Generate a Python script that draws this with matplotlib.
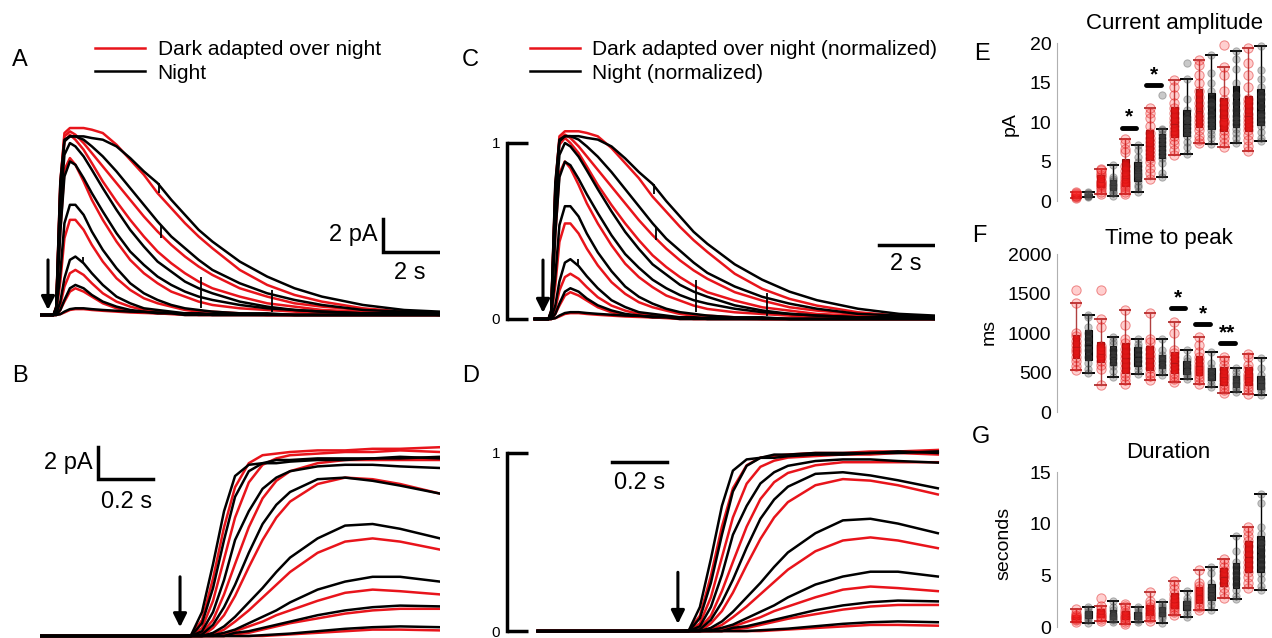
import numpy as np
import matplotlib
matplotlib.use('Agg')
import matplotlib.pyplot as plt
from matplotlib.lines import Line2D

plt.rcParams['font.family'] = ['Liberation Sans', 'DejaVu Sans']

# ---------------- DATA ----------------
# Panel A: full responses (pA) sampled at times (s) after the flash
tA = [-0.3, 0.0, 0.1, 0.2, 0.3, 0.45, 0.6, 0.8, 1.0, 1.3, 1.6, 2.0, 2.5, 3.0, 3.5,
      4.0, 4.5, 5.0, 5.5, 6.0, 7.0, 8.0, 9.0, 10.0, 11.5, 13.0, 14.3]
a_dark_1 = [0, 0, 0, 0, 0.4, 7.8, 10.9, 11.2, 11.2, 11.2, 11.1, 10.9, 10.2, 9.3, 8.4, 7.3, 6.4, 5.5, 4.7, 4.0, 2.7, 1.8, 1.2, 0.8, 0.4, 0.2, 0.1]
a_dark_2 = [0, 0, 0, 0, 0.5, 8.0, 10.7, 11.0, 10.8, 10.3, 9.7, 8.9, 7.9, 6.9, 5.9, 5.0, 4.2, 3.5, 2.9, 2.4, 1.6, 1.1, 0.7, 0.5, 0.3, 0.1, 0.1]
a_dark_3 = [0, 0, 0, 0, 0.4, 7.5, 10.4, 10.8, 10.5, 9.9, 9.1, 8.0, 6.8, 5.7, 4.7, 3.8, 3.1, 2.5, 2.0, 1.6, 1.1, 0.7, 0.5, 0.3, 0.2, 0.1, 0.1]
a_dark_4 = [0, 0, 0, 0, 0.3, 5.0, 8.7, 9.4, 9.0, 8.0, 6.9, 5.7, 4.4, 3.3, 2.5, 1.9, 1.4, 1.1, 0.8, 0.6, 0.4, 0.3, 0.2, 0.1, 0.1, 0.1, 0.0]
a_dark_5 = [0, 0, 0, 0, 0.1, 2.0, 4.6, 5.7, 5.7, 5.1, 4.2, 3.2, 2.2, 1.5, 1.0, 0.7, 0.5, 0.3, 0.2, 0.2, 0.1, 0, 0, 0, 0, 0, 0]
a_dark_6 = [0, 0, 0, 0, 0.05, 0.6, 1.7, 2.5, 2.7, 2.4, 1.9, 1.3, 0.8, 0.5, 0.3, 0.2, 0.1, 0.1, 0, 0, 0, 0, 0, 0, 0, 0, 0]
a_dark_7 = [0, 0, 0, 0, 0, 0.3, 0.8, 1.4, 1.6, 1.4, 1.1, 0.7, 0.4, 0.25, 0.15, 0.1, 0.05, 0, 0, 0, 0, 0, 0, 0, 0, 0, 0]
a_dark_8 = [0, 0, 0, 0, 0, 0.05, 0.15, 0.3, 0.35, 0.35, 0.3, 0.25, 0.2, 0.15, 0.12, 0.1, 0.08, 0.06, 0.05, 0.04, 0.02, 0, 0, 0, 0, 0, 0]
a_night_1 = [0, 0, 0, 0, 0.4, 7.5, 10.4, 10.7, 10.7, 10.7, 10.6, 10.5, 10.1, 9.4, 8.6, 7.9, 6.9, 6.0, 5.1, 4.4, 3.2, 2.3, 1.6, 1.1, 0.6, 0.3, 0.2]
a_night_2 = [0, 0, 0, 0, 0.5, 8.0, 10.5, 10.7, 10.7, 10.5, 10.1, 9.5, 8.6, 7.6, 6.6, 5.6, 4.7, 4.0, 3.3, 2.7, 1.9, 1.3, 0.9, 0.6, 0.3, 0.2, 0.1]
a_night_3 = [0, 0, 0, 0, 0.4, 6.5, 9.6, 10.3, 10.1, 9.5, 8.7, 7.6, 6.3, 5.1, 4.1, 3.2, 2.6, 2.0, 1.6, 1.3, 0.8, 0.5, 0.3, 0.2, 0.1, 0.1, 0.1]
a_night_4 = [0, 0, 0, 0, 0.3, 5.0, 8.3, 9.2, 9.0, 8.2, 7.3, 6.2, 4.9, 3.8, 3.0, 2.3, 1.8, 1.4, 1.1, 0.9, 0.6, 0.4, 0.3, 0.2, 0.1, 0.1, 0.0]
a_night_5 = [0, 0, 0, 0, 0.2, 2.5, 5.5, 6.6, 6.6, 6.0, 5.0, 3.9, 2.8, 1.9, 1.3, 0.9, 0.6, 0.4, 0.3, 0.2, 0.1, 0.1, 0, 0, 0, 0, 0]
a_night_6 = [0, 0, 0, 0, 0.05, 0.8, 2.2, 3.3, 3.5, 3.1, 2.5, 1.8, 1.1, 0.7, 0.4, 0.3, 0.2, 0.1, 0.1, 0, 0, 0, 0, 0, 0, 0, 0]
a_night_7 = [0, 0, 0, 0, 0, 0.3, 0.9, 1.6, 1.8, 1.6, 1.2, 0.8, 0.5, 0.3, 0.2, 0.1, 0.1, 0, 0, 0, 0, 0, 0, 0, 0, 0, 0]
a_night_8 = [0, 0, 0, 0, 0, 0.05, 0.2, 0.35, 0.4, 0.4, 0.35, 0.3, 0.25, 0.2, 0.18, 0.15, 0.12, 0.1, 0.08, 0.06, 0.04, 0.02, 0, 0, 0, 0, 0]
# small vertical artefacts on the night traces (time s, top pA, bottom pA)
art_t = [4.06, 4.12, 5.58, 8.18, 1.27]
art_top = [7.9, 5.4, 2.3, 1.5, 3.5]
art_bot = [7.3, 4.6, 0.4, 0.2, 3.1]
# normalisation used for panel C
normC_dark, normC_night = 10.5, 10.3

# Panel B: rising phase (pA) at times (s) after the flash
tB = [-0.51, -0.3, -0.1, 0.0, 0.04, 0.08, 0.12, 0.16, 0.2, 0.25, 0.3, 0.35, 0.4, 0.5, 0.6, 0.7, 0.8, 0.945]
b_dark_1 = [0, 0, 0, 0, 0.05, 1.0, 3.6, 6.8, 9.3, 10.8, 11.3, 11.4, 11.5, 11.6, 11.6, 11.7, 11.7, 11.8]
b_dark_2 = [0, 0, 0, 0, 0, 0.5, 2.2, 4.8, 7.4, 9.6, 10.7, 11.1, 11.3, 11.4, 11.5, 11.5, 11.6, 11.5]
b_dark_3 = [0, 0, 0, 0, 0, 0.2, 1.0, 2.6, 4.5, 6.8, 8.6, 9.7, 10.3, 10.8, 11.0, 11.0, 11.0, 11.0]
b_dark_4 = [0, 0, 0, 0, 0, 0, 0.5, 1.3, 2.5, 4.3, 6.0, 7.4, 8.4, 9.5, 9.9, 9.8, 9.5, 8.9]
b_dark_5 = [0, 0, 0, 0, 0, 0, 0.1, 0.4, 0.9, 1.6, 2.4, 3.2, 4.0, 5.2, 5.9, 6.1, 5.9, 5.4]
b_dark_6 = [0, 0, 0, 0, 0, 0, 0, 0.1, 0.3, 0.6, 0.9, 1.3, 1.6, 2.2, 2.7, 2.9, 2.8, 2.6]
b_dark_7 = [0, 0, 0, 0, 0, 0, 0, 0, 0.1, 0.2, 0.4, 0.6, 0.8, 1.1, 1.4, 1.6, 1.7, 1.7]
b_dark_8 = [0, 0, 0, 0, 0, 0, 0, 0, 0, 0, 0, 0.05, 0.1, 0.2, 0.3, 0.4, 0.4, 0.35]
b_night_1 = [0, 0, 0, 0, 0.05, 1.5, 4.5, 7.8, 10.0, 10.7, 10.8, 10.8, 10.9, 11.0, 11.0, 11.1, 11.1, 11.2]
b_night_2 = [0, 0, 0, 0, 0, 0.8, 3.0, 6.0, 8.7, 10.3, 10.8, 11.0, 11.0, 11.1, 11.1, 11.1, 11.2, 11.1]
b_night_3 = [0, 0, 0, 0, 0, 0.3, 1.5, 3.5, 6.0, 7.8, 9.2, 9.9, 10.3, 10.6, 10.7, 10.7, 10.6, 10.5]
b_night_4 = [0, 0, 0, 0, 0, 0.1, 0.7, 1.8, 3.2, 5.2, 7.0, 8.2, 9.0, 9.8, 9.9, 9.7, 9.4, 8.9]
b_night_5 = [0, 0, 0, 0, 0, 0, 0.2, 0.6, 1.2, 2.1, 3.0, 4.0, 4.9, 6.1, 6.9, 7.0, 6.7, 6.1]
b_night_6 = [0, 0, 0, 0, 0, 0, 0.05, 0.2, 0.4, 0.8, 1.2, 1.6, 2.1, 2.9, 3.4, 3.7, 3.7, 3.4]
b_night_7 = [0, 0, 0, 0, 0, 0, 0, 0, 0.2, 0.3, 0.5, 0.7, 0.9, 1.3, 1.6, 1.8, 1.9, 1.85]
b_night_8 = [0, 0, 0, 0, 0, 0, 0, 0, 0, 0, 0.05, 0.1, 0.15, 0.3, 0.45, 0.55, 0.6, 0.55]
normD_dark, normD_night = 11.6, 11.1

# Panels E-G: per-cell values, 8 flash intensities, dark adapted (red) / night (black)
amp_dark = [[0.4, 0.5, 0.6, 0.7, 0.8, 0.9, 1.0, 1.1],
            [0.9, 1.2, 1.5, 1.8, 2.0, 2.2, 2.4, 2.6, 3.0, 3.3, 3.6, 3.9, 4.1],
            [0.9, 1.2, 1.5, 1.8, 2.0, 2.3, 2.6, 2.9, 3.3, 3.8, 4.5, 6.2, 6.6, 7.4, 7.9],
            [2.8, 3.5, 4.2, 5.0, 5.5, 6.0, 6.5, 7.0, 7.5, 8.0, 8.6, 9.5, 10.5, 11.2, 11.8],
            [5.8, 6.5, 7.2, 7.8, 8.2, 8.6, 9.0, 9.5, 10.0, 10.5, 11.2, 11.8, 12.5, 13.5, 14.5, 15.3],
            [7.3, 7.8, 8.3, 9.0, 9.5, 10.0, 10.5, 11.0, 11.8, 12.5, 13.2, 14.0, 15.0, 16.0, 17.2, 17.9],
            [6.8, 7.3, 8.0, 8.5, 9.0, 9.6, 10.0, 10.2, 10.8, 11.5, 12.2, 12.8, 14.0, 16.0, 17.0, 19.8],
            [6.3, 7.0, 7.8, 8.4, 9.0, 9.5, 10.0, 10.5, 11.0, 11.8, 12.5, 13.0, 14.5, 16.0, 17.5, 19.4]]
amp_night = [[0.5, 0.6, 0.7, 0.8, 0.9, 1.0, 1.1],
             [0.7, 1.0, 1.2, 1.5, 1.8, 2.0, 2.2, 2.5, 2.8, 3.1, 4.6],
             [1.2, 1.8, 2.0, 2.5, 3.0, 3.3, 3.6, 4.0, 4.4, 5.0, 5.6, 6.5, 7.1],
             [3.0, 3.5, 4.8, 5.5, 6.0, 6.5, 7.0, 7.5, 8.0, 8.5, 9.0, 9.2, 13.5],
             [6.0, 6.9, 7.5, 8.2, 8.8, 9.3, 9.8, 10.3, 10.7, 11.5, 12.9, 15.5, 17.5],
             [7.2, 8.0, 8.5, 9.0, 9.5, 10.0, 10.5, 11.2, 12.0, 12.6, 14.0, 15.0, 16.2, 18.5],
             [7.4, 8.0, 8.6, 9.2, 9.8, 10.3, 10.8, 11.5, 12.4, 13.5, 15.0, 16.8, 18.0, 19.0],
             [7.6, 8.0, 8.8, 9.5, 10.0, 10.6, 11.2, 12.0, 13.0, 13.6, 14.5, 15.5, 16.6, 19.7]]
tpeak_dark = [[530, 580, 640, 700, 760, 800, 850, 900, 960, 1000, 1380, 1540],
              [340, 540, 600, 650, 700, 720, 760, 800, 830, 1080, 1180, 1540],
              [350, 400, 450, 500, 560, 620, 680, 740, 800, 870, 920, 1100, 1290],
              [400, 450, 500, 560, 620, 680, 740, 800, 880, 920, 1250],
              [380, 420, 460, 500, 550, 600, 640, 700, 750, 780, 1000, 1140],
              [360, 400, 440, 480, 520, 560, 600, 650, 700, 760, 850, 950],
              [240, 280, 320, 360, 400, 440, 480, 540, 600, 660, 700],
              [230, 280, 320, 360, 400, 440, 480, 540, 600, 700, 740]]
tpeak_night = [[500, 550, 620, 700, 780, 850, 920, 1000, 1080, 1200, 1230],
               [440, 520, 580, 620, 680, 720, 780, 860, 900, 950],
               [480, 530, 580, 640, 700, 760, 820, 860, 930],
               [470, 520, 560, 600, 640, 680, 720, 780, 920],
               [420, 450, 480, 510, 560, 600, 640, 680, 780],
               [320, 360, 400, 440, 480, 520, 560, 620, 760],
               [250, 290, 320, 350, 380, 420, 460, 510, 560],
               [220, 260, 290, 320, 350, 380, 420, 470, 560, 680]]
dur_dark = [[0.5, 0.7, 0.8, 0.9, 1.0, 1.1, 1.2, 1.4, 1.7],
            [0.6, 0.8, 1.0, 1.1, 1.3, 1.5, 1.7, 2.0, 2.8],
            [0.3, 0.5, 0.7, 0.9, 1.0, 1.2, 1.4, 1.6, 2.0, 2.2],
            [0.6, 0.9, 1.1, 1.3, 1.5, 1.7, 1.9, 2.2, 2.5, 3.4],
            [1.2, 1.5, 1.7, 1.9, 2.1, 2.3, 2.5, 2.8, 3.2, 3.7, 4.1, 4.5],
            [1.6, 1.9, 2.2, 2.5, 2.8, 3.1, 3.4, 3.7, 4.0, 4.3, 5.5],
            [2.8, 3.3, 3.8, 4.3, 4.7, 5.0, 5.4, 5.8, 6.2, 6.6],
            [3.8, 4.3, 4.8, 5.3, 5.8, 6.3, 6.8, 7.3, 7.8, 8.3, 8.8, 9.3, 9.7]]
dur_night = [[0.4, 0.7, 0.9, 1.1, 1.3, 1.5, 1.7, 1.9],
             [0.5, 0.7, 0.8, 1.0, 1.1, 1.3, 1.6, 1.9, 2.5],
             [0.5, 0.7, 0.8, 1.0, 1.1, 1.3, 1.5, 1.7, 1.9],
             [0.4, 0.9, 1.1, 1.3, 1.5, 1.7, 1.9, 2.1, 2.4],
             [1.0, 1.3, 1.6, 1.9, 2.1, 2.3, 2.5, 2.8, 3.5],
             [1.6, 2.1, 2.5, 2.9, 3.2, 3.5, 3.8, 4.3, 5.2, 5.8],
             [2.7, 3.0, 3.6, 4.2, 4.7, 5.2, 5.8, 6.3, 7.4, 8.8],
             [3.6, 4.0, 4.6, 5.2, 5.8, 6.3, 6.9, 7.5, 8.0, 8.3, 9.0, 9.7, 12.0, 12.9]]
# significance: (intensity index, bar height, label)
sig_amp = [(2, 9.3, '*'), (3, 14.7, '*')]
sig_tpeak = [(4, 1317, '*'), (5, 1114, '*'), (6, 873, '**')]

RED = '#e8141b'
BLK = '#000000'

# ---------------- FIGURE ----------------
W, H = 1272, 638
fig = plt.figure(figsize=(W / 100, H / 100), dpi=100)


def rect(x0, y0, x1, y1):
    return [x0 / W, 1 - y1 / H, (x1 - x0) / W, (y1 - y0) / H]


def fig_text(x, y, s, **kw):
    fig.text(x / W, 1 - y / H, s, **kw)


a_dark = [a_dark_1, a_dark_2, a_dark_3, a_dark_4, a_dark_5, a_dark_6, a_dark_7, a_dark_8]
a_night = [a_night_1, a_night_2, a_night_3, a_night_4, a_night_5, a_night_6, a_night_7, a_night_8]
b_dark = [b_dark_1, b_dark_2, b_dark_3, b_dark_4, b_dark_5, b_dark_6, b_dark_7, b_dark_8]
b_night = [b_night_1, b_night_2, b_night_3, b_night_4, b_night_5, b_night_6, b_night_7, b_night_8]

LW = 1.8


def traces(ax, t, dark, night, nd=1.0, nn=1.0):
    for tr in dark:
        ax.plot(t, np.array(tr) / nd, color=RED, lw=LW, solid_joinstyle='round')
    for tr in night:
        ax.plot(t, np.array(tr) / nn, color=BLK, lw=LW, solid_joinstyle='round')


def arrow(ax, x, y0, y1):
    ax.annotate('', xy=(x, y1), xytext=(x, y0),
                arrowprops=dict(arrowstyle='-|>', color='k', lw=2.2, mutation_scale=20,
                                shrinkA=0, shrinkB=0))


def bare(ax):
    for s in ax.spines.values():
        s.set_visible(False)
    ax.set_xticks([])
    ax.set_yticks([])
    ax.patch.set_alpha(0)


def legend(ax, x, y, labels):
    h = [Line2D([], [], color=RED, lw=LW), Line2D([], [], color=BLK, lw=LW)]
    ax.legend(h, labels, loc='center left', bbox_to_anchor=(x / W, 1 - y / H),
              bbox_transform=fig.transFigure, frameon=False, fontsize=15,
              handlelength=2.4, handletextpad=0.6, labelspacing=0.2,
              borderpad=0, borderaxespad=0)


# ---- Panel A ----
axA = fig.add_axes(rect(40, 110, 440, 330))
bare(axA)
axA.set_xlim(-0.292, 14.31)
axA.set_ylim(-0.9, 12.28)
traces(axA, tA, a_dark, a_night)
axA.vlines(art_t, art_bot, art_top, color='k', lw=1.3)
arrow(axA, 0, 3.3, 0.3)
axA.plot([12.23, 12.23, 14.23], [5.77, 3.77, 3.77], color='k', lw=2.5, solid_joinstyle='miter')
axA.text(12.05, 4.8, '2 pA', fontsize=17, ha='right', va='center')
axA.text(13.2, 2.5, '2 s', fontsize=17, ha='center', va='center')
legend(axA, 95, 61.5, ['Dark adapted over night', 'Night'])

# ---- Panel C ----
axC = fig.add_axes(rect(495, 110, 935, 330))
bare(axC)
axC.set_xlim(-1.752, 14.31)
axC.set_ylim(-0.0625, 1.1875)
traces(axC, tA, a_dark, a_night, normC_dark, normC_night)
axC.vlines(art_t, np.array(art_bot) / normC_night, np.array(art_top) / normC_night, color='k', lw=1.3)
arrow(axC, 0, 0.335, 0.035)
axC.spines['left'].set_visible(True)
axC.spines['left'].set_position(('data', -1.314))
axC.spines['left'].set_bounds(0, 1)
axC.spines['left'].set_linewidth(2.5)
axC.set_yticks([0, 1])
axC.set_yticklabels(['0', '1'])
axC.tick_params(axis='y', direction='in', length=15, width=2.5, labelsize=11, pad=5)
axC.plot([12.25, 14.25], [0.42, 0.42], color='k', lw=2.5)
axC.text(13.25, 0.31, '2 s', fontsize=17, ha='center', va='center')
legend(axC, 530, 61.5, ['Dark adapted over night (normalized)', 'Night (normalized)'])

# ---- Panel B ----
axB = fig.add_axes(rect(40, 440, 440, 638))
bare(axB)
axB.set_xlim(-0.509, 0.945)
axB.set_ylim(-0.125, 12.25)
traces(axB, tB, b_dark, b_night)
arrow(axB, 0, 3.7, 0.55)
axB.plot([-0.298, -0.298, -0.098], [11.81, 9.81, 9.81], color='k', lw=2.5, solid_joinstyle='miter')
axB.text(-0.316, 10.8, '2 pA', fontsize=17, ha='right', va='center')
axB.text(-0.196, 8.4, '0.2 s', fontsize=17, ha='center', va='center')

# ---- Panel D ----
axD = fig.add_axes(rect(495, 440, 940, 638))
bare(axD)
axD.set_xlim(-0.665, 0.953)
axD.set_ylim(-0.039, 1.073)
traces(axD, tB, b_dark, b_night, normD_dark, normD_night)
arrow(axD, 0, 0.33, 0.04)
axD.spines['left'].set_visible(True)
axD.spines['left'].set_position(('data', -0.622))
axD.spines['left'].set_bounds(0, 1)
axD.spines['left'].set_linewidth(2.5)
axD.set_yticks([0, 1])
axD.set_yticklabels(['0', '1'])
axD.tick_params(axis='y', direction='in', length=15, width=2.5, labelsize=11, pad=5)
axD.plot([-0.24, -0.04], [0.95, 0.95], color='k', lw=2.5)
axD.text(-0.14, 0.83, '0.2 s', fontsize=17, ha='center', va='center')

# panel letters
for (x, y, s) in [(12, 60, 'A'), (462, 60, 'C'), (12, 376, 'B'), (462, 376, 'D'),
                  (974, 54, 'E'), (972, 236, 'F'), (972, 437, 'G')]:
    fig_text(x, y, s, fontsize=17, ha='left', va='center')


# ---- Panels E-G ----
def stat_panel(r, ylim, ticks, dark, night, title, title_xy, ylabel, ylab_xy, sigs):
    ax = fig.add_axes(rect(*r))
    for k in ['top', 'right', 'bottom']:
        ax.spines[k].set_visible(False)
    ax.spines['left'].set_color('#b0b0b0')
    ax.spines['left'].set_linewidth(0.8)
    ax.spines['left'].set_bounds(ticks[0], ticks[-1])
    ax.set_xticks([])
    ax.set_yticks(ticks)
    ax.tick_params(axis='y', length=0, labelsize=14, pad=4)
    ax.set_xlim(-0.545, 16.77)
    ax.set_ylim(*ylim)
    ax.patch.set_alpha(0)
    for i in range(8):
        for j, (vals, col) in enumerate([(dark[i], 'r'), (night[i], 'k')]):
            pos = 2 * i + 1 + j
            if col == 'r':
                face, edge, wc = '#c81010', '#8a0a0a', '#b04040'
                sc_face, sc_edge, s = (1, 0.15, 0.15, 0.22), (0.85, 0.05, 0.05, 0.45), 45
            else:
                face, edge, wc = '#1a1a1a', '#000000', '#000000'
                sc_face, sc_edge, s = (0.3, 0.3, 0.3, 0.3), (0.25, 0.25, 0.25, 0.35), 28
            ax.boxplot(vals, positions=[pos], widths=0.55, patch_artist=True,
                       showfliers=False, capwidths=0.85,
                       boxprops=dict(facecolor=face, edgecolor=edge, lw=0.8),
                       whiskerprops=dict(color=wc, lw=1.0),
                       capprops=dict(color=wc, lw=1.4),
                       medianprops=dict(color=edge, lw=0.8), manage_ticks=False)
            ax.scatter(np.full(len(vals), pos), vals, s=s, facecolor=sc_face,
                       edgecolor=sc_edge, lw=0.7, zorder=3)
    span = ylim[1] - ylim[0]
    for (i, yv, lab) in sigs:
        x0, x1 = 2 * i + 1 - 0.3, 2 * i + 2 - 0.1
        ax.plot([x0, x1], [yv, yv], color='k', lw=3.5, solid_capstyle='round', zorder=4)
        ax.text((x0 + x1) / 2, yv + 0.005 * span, lab, fontsize=15, ha='center', va='bottom',
                fontweight='bold')
    fig_text(title_xy[0], title_xy[1], title, fontsize=16, ha='center', va='center')
    fig_text(ylab_xy[0], ylab_xy[1], ylabel, fontsize=14, ha='center', va='center', rotation=90)
    return ax


stat_panel((1057, 35, 1270, 210), (-1.14, 21.07), [0, 5, 10, 15, 20], amp_dark, amp_night,
           'Current amplitude', (1175, 23), 'pA', (1010, 124), sig_amp)
stat_panel((1057, 245, 1270, 420), (-101, 2114), [0, 500, 1000, 1500, 2000], tpeak_dark, tpeak_night,
           'Time to peak', (1169, 238), 'ms', (989, 332), sig_tpeak)
stat_panel((1057, 465, 1270, 636), (-0.87, 15.68), [0, 5, 10, 15], dur_dark, dur_night,
           'Duration', (1168, 452), 'seconds', (1004, 543), [])

fig.savefig('out.png', dpi=100)
